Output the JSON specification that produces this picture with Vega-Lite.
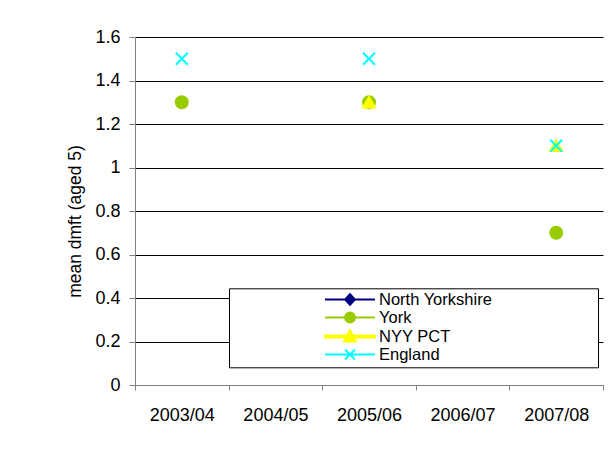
{
  "$schema": "https://vega.github.io/schema/vega-lite/v6.json",
  "autosize": {"type": "none"},
  "width": 468,
  "height": 348,
  "padding": {"left": 135, "top": 37, "right": 5, "bottom": 69},
  "background": "white",
  "config": {
    "font": "Liberation Sans",
    "view": {"stroke": null}
  },
  "data": {
    "values": [
      {"period": "2003/04", "series": "York", "value": 1.3},
      {"period": "2005/06", "series": "York", "value": 1.3},
      {"period": "2007/08", "series": "York", "value": 0.7},
      {"period": "2005/06", "series": "NYY PCT", "value": 1.3},
      {"period": "2007/08", "series": "NYY PCT", "value": 1.1},
      {"period": "2003/04", "series": "England", "value": 1.5},
      {"period": "2005/06", "series": "England", "value": 1.5},
      {"period": "2007/08", "series": "England", "value": 1.1}
    ]
  },
  "layer": [
    {
      "transform": [{"filter": "datum.value < 0"}],
      "mark": {"type": "point", "filled": true, "strokeWidth": 2, "opacity": 1},
      "encoding": {
        "color": {
          "field": "series",
          "type": "nominal",
          "scale": {
            "domain": ["North Yorkshire", "York", "NYY PCT", "England"],
            "range": ["#000080", "#99CC00", "#FFFF00", "#00FFFF"]
          },
          "legend": {
            "orient": "none",
            "legendX": 94,
            "legendY": 251.3,
            "direction": "vertical",
            "title": "⠀⠀⠀⠀⠀⠀⠀⠀⠀⠀⠀⠀⠀⠀⠀⠀⠀⠀⠀⠀⠀⠀⠀⠀⠀⠀⠀⠀⠀⠀⠀⠀⠀⠀⠀⠀⠀⠀⠀⠀",
            "titleOrient": "right",
            "titleFont": "DejaVu Sans",
            "titleLimit": 110,
            "titleFontSize": 18,
            "titleOpacity": 0,
            "titlePadding": 0,
            "strokeColor": "black",
            "fillColor": "white",
            "padding": 3,
            "rowPadding": -2,
            "labelFont": "Liberation Sans",
            "labelFontSize": 16.5,
            "labelColor": "black",
            "labelOffset": 130.5,
            "labelLimit": 300,
            "symbolSize": 196,
            "symbolStrokeWidth": 2,
            "symbolOpacity": 1
          }
        },
        "stroke": {
          "field": "series",
          "type": "nominal",
          "scale": {
            "domain": ["North Yorkshire", "York", "NYY PCT", "England"],
            "range": ["#000080", "#99CC00", "#FFFF00", "#00FFFF"]
          },
          "legend": null
        },
        "shape": {
          "field": "series",
          "type": "nominal",
          "scale": {
            "domain": ["North Yorkshire", "York", "NYY PCT", "England"],
            "range": [
              "M12.107,0H19.25M14.979,0L15.679,-0.75L16.379,0L15.679,0.75Z",
              "M12.107,0H19.25M14.965,0A0.714,0.714 0 1,0 16.393,0A0.714,0.714 0 1,0 14.965,0Z",
              "M12.107,-0.15H19.25V0.15H12.107ZM15.679,-0.9L16.536,0.714L14.822,0.714Z",
              "M12.107,0H19.25M14.965,-0.714L16.393,0.714M14.965,0.714L16.393,-0.714"
            ]
          },
          "legend": null
        }
      }
    },
    {
      "mark": {"type": "point", "filled": true, "size": 144, "strokeWidth": 2, "opacity": 1},
      "encoding": {
        "x": {
          "field": "period",
          "type": "nominal",
          "sort": ["2003/04", "2004/05", "2005/06", "2006/07", "2007/08"],
          "scale": {"type": "band", "domain": ["2003/04", "2004/05", "2005/06", "2006/07", "2007/08"], "paddingInner": 0, "paddingOuter": 0},
          "axis": {
            "title": null,
            "tickBand": "extent",
            "labelAngle": 0,
            "labelFont": "Liberation Sans",
            "labelFontSize": 18,
            "labelColor": "black",
            "labelPadding": 16,
            "tickSize": 5,
            "tickColor": "#808080",
            "domainColor": "#808080",
            "grid": false
          }
        },
        "y": {
          "field": "value",
          "type": "quantitative",
          "scale": {"domain": [0, 1.6], "nice": false, "zero": true},
          "axis": {
            "title": "mean dmft (aged 5)",
            "titleFont": "Liberation Sans",
            "titleFontSize": 17.5,
            "titleFontWeight": "normal",
            "titleColor": "black",
            "titlePadding": 10,
            "titleY": 184,
            "values": [0, 0.2, 0.4, 0.6, 0.8, 1, 1.2, 1.4, 1.6],
            "format": "~g",
            "labelFont": "Liberation Sans",
            "labelFontSize": 18,
            "labelColor": "black",
            "labelPadding": 9,
            "tickSize": 6,
            "tickColor": "#808080",
            "domainColor": "#808080",
            "grid": true,
            "gridColor": "black",
            "gridOpacity": 1,
            "gridWidth": 1
          }
        },
        "color": {"field": "series", "type": "nominal"},
        "stroke": {"field": "series", "type": "nominal", "legend": null},
        "shape": {
          "condition": [
            {"test": "datum.series === 'York'", "value": "circle"},
            {"test": "datum.series === 'NYY PCT'", "value": "triangle-up"},
            {"test": "datum.series === 'North Yorkshire'", "value": "diamond"}
          ],
          "value": "M-1,-1L1,1M-1,1L1,-1"
        }
      }
    }
  ]
}
